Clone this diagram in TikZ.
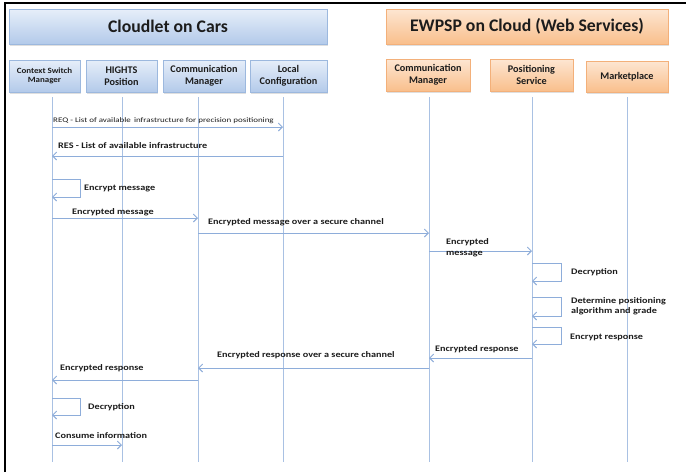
\documentclass[tikz,border=0pt]{standalone}
\usepackage{fontspec}
\setmainfont{Carlito}
\newfontfamily\lblfont[FakeStretch=1.2]{Carlito}
\newfontfamily\reqfont[FakeStretch=1.28]{Carlito}
\newfontfamily\csmfont[FakeStretch=1.12]{Carlito}
\usetikzlibrary{arrows.meta,shadows}
\definecolor{lifec}{HTML}{A9C1E3}
\definecolor{msgc}{HTML}{8EADDA}
\definecolor{bluetop}{HTML}{E6EEF9}
\definecolor{bluebot}{HTML}{B3CAEA}
\definecolor{blueborder}{HTML}{9CB8DE}
\definecolor{orangetop}{HTML}{FDE6D2}
\definecolor{orangebot}{HTML}{F9BF8C}
\definecolor{orangeborder}{HTML}{F3B07A}
\definecolor{txt}{HTML}{1C1C1C}
\begin{document}
\begin{tikzpicture}[x=1pt,y=-1pt,
  boxbase/.style={align=center, inner sep=0pt, text=txt,
    drop shadow={shadow xshift=1.2pt,shadow yshift=-1.5pt,opacity=0.25}},
  bluebox/.style={boxbase, draw=blueborder, top color=bluetop, bottom color=bluebot},
  orangebox/.style={boxbase, draw=orangeborder, top color=orangetop, bottom color=orangebot},
  headfont/.style={font=\fontsize{17.7}{20}\selectfont\bfseries},
  partfont/.style={font=\fontsize{10.2}{11.5}\selectfont\bfseries},
  life/.style={draw=lifec, line width=1pt},
  msg/.style={draw=msgc, line width=0.9pt, -{Straight Barb[length=4pt,width=8pt]}},
  lbl/.style={anchor=west, inner sep=0pt, text=txt, font=\lblfont\fontsize{8.5}{10.5}\selectfont\bfseries, align=left},
  lblsmall/.style={anchor=west, inner sep=0pt, text=txt, font=\reqfont\fontsize{7}{8}\selectfont}
]
\useasboundingbox (0,0) rectangle (686,472);
\fill[white] (0,0) rectangle (686,472);
\draw[black, line width=1.4pt] (5,472) -- (5,3) -- (686,3);

% headers
\node[bluebox, headfont, minimum width=318pt, minimum height=35pt] (cloudlet) at (168,26.5) {Cloudlet on Cars};
\node[orangebox, headfont, minimum width=282pt, minimum height=35pt] (ewpsp) at (527,26.5) {EWPSP on Cloud (Web Services)};

% participants
\node[bluebox, font=\csmfont\fontsize{8}{9.5}\selectfont\bfseries, minimum width=71pt, minimum height=32pt] (csm) at (44.5,76) {Context Switch\\Manager};
\node[bluebox, partfont, minimum width=71pt, minimum height=32pt] (hights) at (121.5,76) {HIGHTS\\Position};
\node[bluebox, partfont, minimum width=82pt, minimum height=32pt] (comml) at (204,76) {Communication\\Manager};
\node[bluebox, partfont, minimum width=77pt, minimum height=32pt] (local) at (288.5,76) {Local\\Configuration};
\node[orangebox, partfont, minimum width=84pt, minimum height=32pt] (commr) at (428,75) {Communication\\Manager};
\node[orangebox, partfont, minimum width=83pt, minimum height=32pt] (pos) at (531.5,75) {Positioning\\Service};
\node[orangebox, partfont, minimum width=82pt, minimum height=31pt] (market) at (627,76.5) {Marketplace};

% lifelines
\coordinate (l1) at (52,97);
\coordinate (l2) at (122,97);
\coordinate (l3) at (198,97);
\coordinate (l4) at (283,97);
\coordinate (l5) at (429,97);
\coordinate (l6) at (532,97);
\coordinate (l7) at (627,97);
\foreach \i in {1,...,7} \draw[life] (l\i) -- (l\i |- 0,462);

% messages
\draw[msg] (l1 |- 0,127) -- (l4 |- 0,127);
\node[lblsmall] (m1) at (53,120.5) {REQ - List of available\, infrastructure for precision positioning};

\draw[msg] (l4 |- 0,156) -- (l1 |- 0,156);
\node[lbl] (m2) at (58,146) {RES - List of available infrastructure};

\draw[msg] (l1 |- 0,179) -- (80,179) -- (80,197) -- (l1 |- 0,197);
\node[lbl] (m3) at (84,188) {Encrypt message};

\draw[msg] (l1 |- 0,218) -- (l3 |- 0,218);
\node[lbl] (m4) at (72,212) {Encrypted message};

\draw[msg] (l3 |- 0,233) -- (l5 |- 0,233);
\node[lbl] (m5) at (208,222.5) {Encrypted message over a secure channel};

\draw[msg] (l5 |- 0,251) -- (l6 |- 0,251);
\node[lbl] (m6) at (446,247.5) {Encrypted\\message};

\draw[msg] (l6 |- 0,263) -- (561,263) -- (561,281) -- (l6 |- 0,281);
\node[lbl] (m7) at (571,272) {Decryption};

\draw[msg] (l6 |- 0,297) -- (561,297) -- (561,316) -- (l6 |- 0,316);
\node[lbl] (m8) at (571,306) {Determine positioning\\algorithm and grade};

\draw[msg] (l6 |- 0,327) -- (561,327) -- (561,344) -- (l6 |- 0,344);
\node[lbl] (m9) at (570,337) {Encrypt response};

\draw[msg] (l6 |- 0,358) -- (l5 |- 0,358);
\node[lbl] (m10) at (435,349) {Encrypted response};

\draw[msg] (l5 |- 0,368) -- (l3 |- 0,368);
\node[lbl] (m11) at (217,355.5) {Encrypted response over a secure channel};

\draw[msg] (l3 |- 0,380) -- (l1 |- 0,380);
\node[lbl] (m12) at (60,368.5) {Encrypted response};

\draw[msg] (l1 |- 0,398) -- (80,398) -- (80,415) -- (l1 |- 0,415);
\node[lbl] (m13) at (88,407.5) {Decryption};

\draw[msg] (l1 |- 0,445) -- (l2 |- 0,445);
\node[lbl] (m14) at (55,435.5) {Consume information};
\end{tikzpicture}
\end{document}
